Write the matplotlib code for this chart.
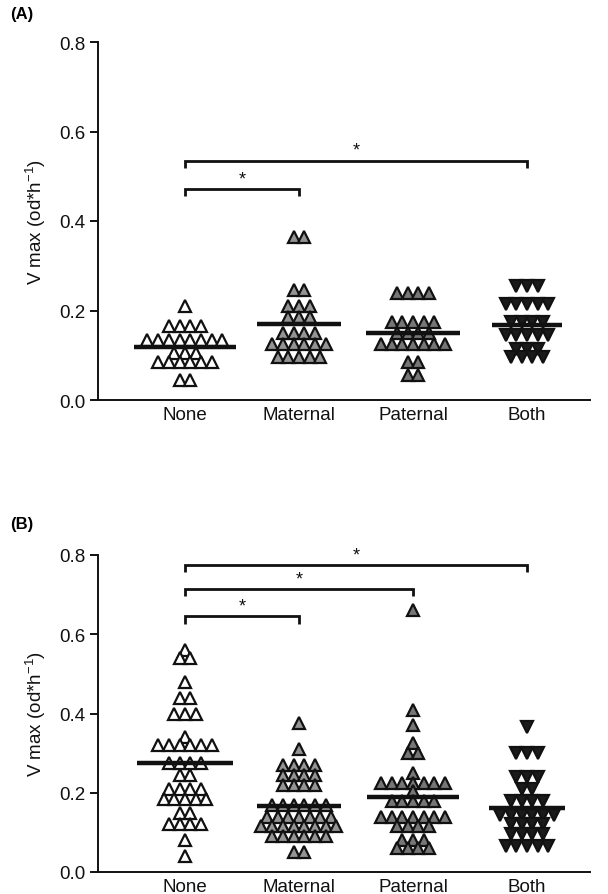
import numpy as np
import matplotlib
matplotlib.use("Agg")
import matplotlib.pyplot as plt

plt.rcParams['font.family'] = ['Liberation Sans', 'DejaVu Sans']

categories = ["None", "Maternal", "Paternal", "Both"]
yticks = [0.0, 0.2, 0.4, 0.6, 0.8]

# Panel A values (each point listed)
A_none = [0.21,
          0.165, 0.165, 0.165, 0.165,
          0.135, 0.135, 0.135, 0.135, 0.135, 0.135, 0.135, 0.135,
          0.105, 0.105, 0.105,
          0.085, 0.085, 0.085, 0.085, 0.085, 0.085,
          0.045, 0.045]
A_maternal = [0.365, 0.365,
              0.245, 0.245,
              0.21, 0.21, 0.21,
              0.185, 0.185, 0.185,
              0.15, 0.15, 0.15, 0.15,
              0.125, 0.125, 0.125, 0.125, 0.125, 0.125,
              0.095, 0.095, 0.095, 0.095, 0.095]
A_paternal = [0.24, 0.24, 0.24, 0.24,
              0.175, 0.175, 0.175, 0.175, 0.175,
              0.15, 0.15, 0.15, 0.15,
              0.125, 0.125, 0.125, 0.125, 0.125, 0.125, 0.125,
              0.085, 0.085,
              0.055, 0.055]
A_both = [0.255, 0.255, 0.255,
          0.215, 0.215, 0.215, 0.215, 0.215,
          0.175, 0.175, 0.175, 0.175,
          0.145, 0.145, 0.145, 0.145, 0.145,
          0.115, 0.115, 0.115,
          0.097, 0.097, 0.097, 0.097]

# Panel B values
B_none = [0.56,
          0.54, 0.54,
          0.48,
          0.44, 0.44,
          0.40, 0.40, 0.40,
          0.34,
          0.32, 0.32, 0.32, 0.32, 0.32, 0.32,
          0.275, 0.275, 0.275, 0.275,
          0.245, 0.245,
          0.21, 0.21, 0.21, 0.21,
          0.185, 0.185, 0.185, 0.185, 0.185,
          0.15, 0.15,
          0.12, 0.12, 0.12, 0.12,
          0.08,
          0.04]
B_maternal = [0.375,
              0.31,
              0.27, 0.27, 0.27, 0.27,
              0.245, 0.245, 0.245, 0.245,
              0.22, 0.22, 0.22, 0.22,
              0.17, 0.17, 0.17, 0.17, 0.17, 0.17,
              0.14, 0.14, 0.14, 0.14, 0.14, 0.14, 0.14,
              0.115, 0.115, 0.115, 0.115, 0.115, 0.115, 0.115, 0.115,
              0.09, 0.09, 0.09, 0.09, 0.09, 0.09,
              0.05, 0.05]
B_paternal = [0.66,
              0.41,
              0.37,
              0.325,
              0.30, 0.30,
              0.25,
              0.225, 0.225, 0.225, 0.225, 0.225, 0.225, 0.225,
              0.205,
              0.18, 0.18, 0.18, 0.18, 0.18,
              0.14, 0.14, 0.14, 0.14, 0.14, 0.14, 0.14,
              0.115, 0.115, 0.115, 0.115,
              0.08, 0.08, 0.08,
              0.06, 0.06, 0.06, 0.06]
B_both = [0.365,
          0.30, 0.30, 0.30,
          0.24, 0.24, 0.24,
          0.21, 0.21,
          0.18, 0.18, 0.18, 0.18,
          0.145, 0.145, 0.145, 0.145, 0.145, 0.145,
          0.12, 0.12, 0.12, 0.12,
          0.095, 0.095, 0.095, 0.095,
          0.065, 0.065, 0.065, 0.065, 0.065]

# Significance brackets: (group_i, group_j, height)
A_brackets = [(1, 4, 0.535), (1, 2, 0.472)]
B_brackets = [(1, 4, 0.775), (1, 3, 0.715), (1, 2, 0.645)]

# styles
markers = ['^', '^', '^', 'v']
faces = ['white', '#949494', '#767676', '#1a1a1a']
A_halfw = [0.45, 0.37, 0.41, 0.31]
B_halfw = [0.42, 0.37, 0.40, 0.33]
spacing = 0.094

fig = plt.figure(figsize=(6.08, 8.95), dpi=100)
axA = fig.add_axes([98/608, 1-401/895, 492/608, 358/895])
axB = fig.add_axes([98/608, 1-873/895, 492/608, 317/895])


def draw(ax, groups, halfw, brackets, tick_h):
    for gi, vals in enumerate(groups):
        pos = gi + 1
        vals = np.asarray(vals)
        xs = np.zeros_like(vals, dtype=float)
        for v in np.unique(vals):
            idx = np.where(vals == v)[0]
            n = len(idx)
            xs[idx] = pos + (np.arange(n) - (n - 1) / 2) * spacing
        ax.plot(xs, vals, linestyle='none', marker=markers[gi], ms=8.3,
                mfc=faces[gi], mec='#111111', mew=1.6, zorder=3)
        m = vals.mean()
        ax.plot([pos - halfw[gi], pos + halfw[gi]], [m, m], color='#111111',
                lw=3.2, solid_capstyle='butt', zorder=4)
    for (i, j, h) in brackets:
        ax.plot([i, i, j, j], [h - tick_h, h, h, h - tick_h], color='#111111',
                lw=2.0, solid_capstyle='butt', solid_joinstyle='miter', zorder=2)
        ax.text((i + j) / 2, h + 0.004, '*', ha='center', va='bottom',
                fontsize=13, color='#111111')
    ax.set_xlim(0.237, 4.553)
    ax.set_ylim(0, 0.8)
    ax.set_yticks(yticks)
    ax.set_yticklabels([f"{t:.1f}" for t in yticks])
    ax.set_xticks([1, 2, 3, 4])
    ax.set_xticklabels(categories)
    for s in ['top', 'right']:
        ax.spines[s].set_visible(False)
    for s in ['left', 'bottom']:
        ax.spines[s].set_linewidth(1.4)
        ax.spines[s].set_color('#111111')
    ax.tick_params(axis='y', direction='out', length=6, width=1.4,
                   labelsize=13.5, colors='#111111', pad=3)
    ax.tick_params(axis='x', length=0, labelsize=13.5, colors='#111111', pad=4)
    ax.set_ylabel('V max (od*h$^{\\mathregular{-1}}$)', fontsize=13.5,
                  color='#111111', labelpad=8)


draw(axA, [A_none, A_maternal, A_paternal, A_both], A_halfw, A_brackets, 0.016)
draw(axB, [B_none, B_maternal, B_paternal, B_both], B_halfw, B_brackets, 0.018)

fig.text(10/608, 1-15/895, '(A)', fontsize=12, fontweight='bold', va='center', ha='left')
fig.text(10/608, 1-525/895, '(B)', fontsize=12, fontweight='bold', va='center', ha='left')

fig.savefig('out.png', dpi=100)
